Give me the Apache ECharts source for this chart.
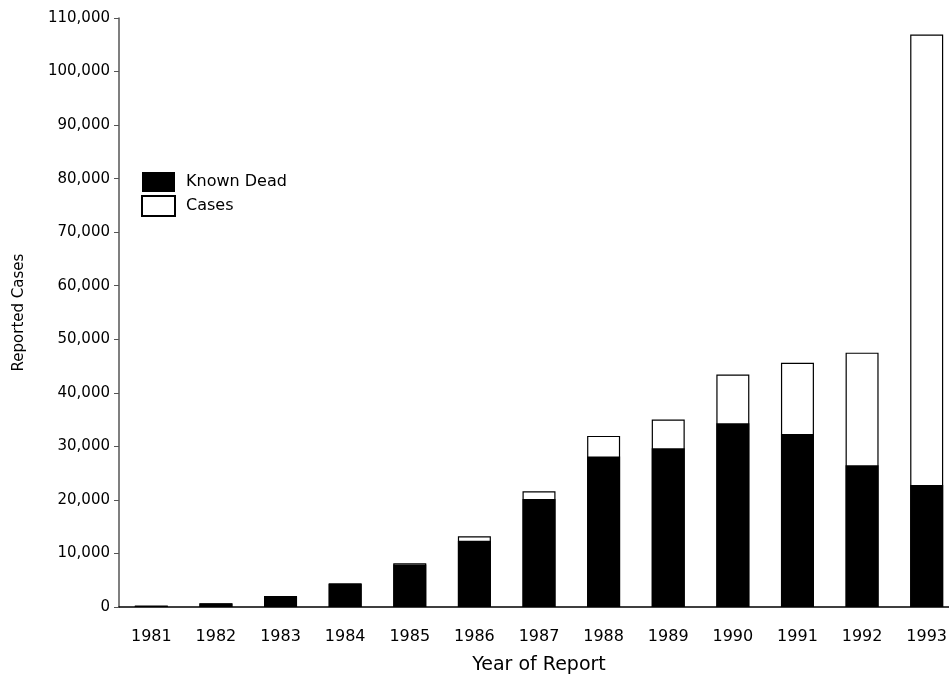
<!DOCTYPE html>
<html>
<head>
<meta charset="utf-8">
<script src="https://cdn.jsdelivr.net/npm/echarts@6/dist/echarts.min.js"></script>
<style>
html,body{margin:0;padding:0;background:#fff;}
#chart{width:949px;height:679px;}
</style>
</head>
<body>
<div id="chart"></div>
<script>
const years = ['1981','1982','1983','1984','1985','1986','1987','1988','1989','1990','1991','1992','1993'];
const knownDead = [200, 650, 2000, 4300, 7950, 12350, 20150, 28100, 29650, 34300, 32300, 26450, 22800];
const cases = [300, 700, 2050, 4420, 8150, 13200, 21600, 31950, 35000, 43400, 45600, 47500, 106900];

const FONT = 'DejaVu Sans';
const chart = echarts.init(document.getElementById('chart'), null, {renderer: 'canvas'});
chart.setOption({
  animation: false,
  backgroundColor: '#ffffff',
  grid: {left: 119, top: 18, right: -10, bottom: 72, containLabel: false, outerBoundsMode: 'none'},
  legend: {
    data: ['Known Dead', 'Cases'],
    orient: 'vertical',
    left: 136,
    top: 167,
    itemWidth: 33,
    itemHeight: 20,
    itemGap: 3,
    icon: 'rect',
    textStyle: {fontFamily: FONT, fontSize: 16, color: '#000', padding: [0, 0, 0, 6]}
  },
  xAxis: {
    type: 'category',
    data: years,
    axisLine: {lineStyle: {color: '#000', width: 1.5}},
    axisTick: {show: false},
    axisLabel: {color: '#000', fontFamily: FONT, fontSize: 16, margin: 22},
    name: 'Year of Report',
    nameLocation: 'middle',
    nameGap: 49,
    nameTextStyle: {color: '#000', fontFamily: FONT, fontSize: 19}
  },
  yAxis: {
    type: 'value',
    min: 0,
    max: 110000,
    interval: 10000,
    splitLine: {show: false},
    axisLine: {show: true, lineStyle: {color: '#555', width: 1.5}},
    axisTick: {show: true, length: 5, lineStyle: {color: '#555'}},
    axisLabel: {
      color: '#000', fontFamily: FONT, fontSize: 15, margin: 9,
      formatter: v => v.toLocaleString('en-US')
    },
    name: 'Reported Cases',
    nameLocation: 'middle',
    nameGap: 92,
    nameTextStyle: {color: '#000', fontFamily: FONT, fontSize: 15}
  },
  series: [
    {
      name: 'Cases',
      type: 'bar',
      data: cases,
      barWidth: 33,
      itemStyle: {color: '#ffffff', borderColor: '#000', borderWidth: 1.2}
    },
    {
      name: 'Known Dead',
      type: 'bar',
      data: knownDead,
      barWidth: 33,
      barGap: '-100%',
      itemStyle: {color: '#000000'}
    }
  ]
});
</script>
</body>
</html>
